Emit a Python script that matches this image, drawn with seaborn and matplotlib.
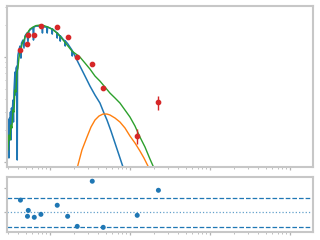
import numpy as np
import pandas as pd
import matplotlib
matplotlib.use("Agg")
import matplotlib.pyplot as plt
import seaborn as sns

# ---- data (log10 wavelength [um], log10 flux) ----
spec_logwave = [-0.525, -0.519, -0.513, -0.506, -0.500, -0.494, -0.488, -0.481, -0.475, -0.463,
                -0.456, -0.450, -0.438, -0.431, -0.425, -0.413, -0.409, -0.405, -0.400, -0.388,
                -0.375, -0.363, -0.356, -0.338, -0.325, -0.313, -0.288, -0.275, -0.263, -0.238,
                -0.213, -0.206, -0.200, -0.175, -0.125, -0.100, -0.094, -0.088, -0.063, -0.038,
                -0.034, -0.030, 0.000, 0.025, 0.029, 0.033, 0.063, 0.088, 0.091, 0.095,
                0.125, 0.129, 0.133, 0.163, 0.188, 0.191, 0.195, 0.225, 0.250, 0.275,
                0.279, 0.283, 0.313, 0.350, 0.413, 0.463, 0.500, 0.563, 0.625, 0.675,
                0.713, 0.763, 0.813, 0.863, 0.913, 0.950]
spec_logflux = [-12.886, -12.600, -12.962, -12.581, -12.695, -12.524, -12.790, -12.486, -12.581, -12.410,
                -12.619, -12.333, -12.143, -12.362, -12.105, -12.086, -12.981, -12.048, -11.981, -11.933,
                -11.895, -12.010, -11.867, -11.838, -11.914, -11.800, -11.771, -11.857, -11.752, -11.733,
                -11.724, -11.838, -11.714, -11.705, -11.705, -11.705, -11.771, -11.705, -11.714, -11.714,
                -11.771, -11.714, -11.724, -11.733, -11.781, -11.733, -11.752, -11.771, -11.819, -11.771,
                -11.800, -11.848, -11.800, -11.829, -11.848, -11.895, -11.848, -11.876, -11.905, -11.933,
                -11.990, -11.943, -11.990, -12.048, -12.143, -12.219, -12.276, -12.362, -12.438, -12.533,
                -12.600, -12.705, -12.819, -12.933, -13.048, -13.152]

model_logwave = [-0.525, -0.513, -0.500, -0.488, -0.475, -0.463, -0.450, -0.438, -0.425, -0.413,
                 -0.400, -0.388, -0.375, -0.363, -0.350, -0.325, -0.300, -0.275, -0.250, -0.213,
                 -0.175, -0.125, -0.075, -0.025, 0.025, 0.075, 0.125, 0.175, 0.225, 0.275,
                 0.325, 0.375, 0.438, 0.500, 0.563, 0.625, 0.688, 0.750, 0.813, 0.875,
                 0.938, 1.000, 1.063, 1.125, 1.188, 1.250, 1.300, 1.338]
model_logflux = [-12.886, -12.743, -12.790, -12.648, -12.676, -12.505, -12.524, -12.314, -12.333, -12.143,
                 -12.105, -12.010, -11.952, -11.933, -11.876, -11.838, -11.790, -11.762, -11.733, -11.714,
                 -11.700, -11.695, -11.700, -11.714, -11.733, -11.762, -11.800, -11.848, -11.895, -11.943,
                 -11.971, -12.000, -12.057, -12.114, -12.181, -12.229, -12.286, -12.343, -12.390, -12.438,
                 -12.505, -12.571, -12.657, -12.762, -12.857, -12.971, -13.057, -13.152]

dust_logwave = [0.325, 0.350, 0.400, 0.463, 0.513, 0.563, 0.613, 0.663, 0.713, 0.750,
                0.813, 0.875, 0.938, 1.000, 1.063, 1.125, 1.175, 1.225, 1.263]
dust_logflux = [-13.124, -13.029, -12.886, -12.762, -12.667, -12.600, -12.562, -12.543, -12.543, -12.552,
                -12.581, -12.619, -12.676, -12.752, -12.819, -12.895, -12.962, -13.038, -13.124]

phot_logwave = [-0.369, -0.281, -0.271, -0.196, -0.113, 0.091, 0.221, 0.341, 0.529, 0.666, 1.091, 1.356]
phot_logflux = [-11.933, -11.876, -11.790, -11.793, -11.705, -11.717, -11.812, -12.003, -12.070, -12.298,
                -12.752, -12.429]
phot_relerr = [0.02, 0.02, 0.02, 0.02, 0.02, 0.02, 0.02, 0.02, 0.02, 0.02, 0.155, 0.155]

residuals = [0.50, -0.16, 0.08, -0.20, -0.08, 0.29, -0.16, -0.57, 1.27, -0.61, -0.12, 0.90]
resid_bands = [0.57, -0.61]
resid_center = 0.0

# ---- build frames ----
spec = pd.DataFrame({"wave": 10 ** np.array(spec_logwave), "flux": 10 ** np.array(spec_logflux)})
model = pd.DataFrame({"wave": 10 ** np.array(model_logwave), "flux": 10 ** np.array(model_logflux)})
dust = pd.DataFrame({"wave": 10 ** np.array(dust_logwave), "flux": 10 ** np.array(dust_logflux)})
phot_w = 10 ** np.array(phot_logwave)
phot_f = 10 ** np.array(phot_logflux)
phot_e = phot_f * np.array(phot_relerr)
res = pd.DataFrame({"wave": phot_w, "res": residuals})

sns.set_style("white")
fig = plt.figure(figsize=(3.2, 2.4), dpi=100)
ax = fig.add_axes([0.0234, 0.3054, 0.956, 0.671])
axr = fig.add_axes([0.0234, 0.0333, 0.956, 0.228])

for a in (ax, axr):
    a.set_xscale("log")
ax.set_yscale("log")

blue, orange, green, red = "#1f77b4", "#ff7f0e", "#2ca02c", "#d62728"

sns.lineplot(data=spec, x="wave", y="flux", ax=ax, sort=False, estimator=None, color=blue, lw=1.1)
sns.lineplot(data=dust, x="wave", y="flux", ax=ax, sort=False, estimator=None, color=orange, lw=1.0)
sns.lineplot(data=model, x="wave", y="flux", ax=ax, sort=False, estimator=None, color=green, lw=1.0)
ax.errorbar(phot_w, phot_f, yerr=phot_e, fmt="o", color=red, ms=3.1, lw=1.0, zorder=5)

sns.scatterplot(data=res, x="wave", y="res", ax=axr, color=blue, s=13, edgecolor="none", zorder=5)
for v in resid_bands:
    axr.axhline(v, color=blue, ls="--", lw=0.9)
axr.axhline(resid_center, color=blue, ls=":", lw=0.9, alpha=0.7)

xlim = (10 ** -0.531, 10 ** 3.294)
ax.set_xlim(*xlim)
axr.set_xlim(*xlim)
ax.set_ylim(10 ** -13.045, 10 ** -11.51)
axr.set_ylim(-0.80, 1.43)
axr.set_yticks([0, 1])

for a in (ax, axr):
    a.set_xlabel("")
    a.set_ylabel("")
    for s in a.spines.values():
        s.set_color("0.78")
        s.set_linewidth(1.5)
    a.tick_params(which="both", bottom=True, left=True, direction="out",
                  labelbottom=False, labelleft=False, color="0.7")
    a.tick_params(which="major", length=2.2, width=0.9)
    a.tick_params(which="minor", length=1.4, width=0.6)

fig.savefig("out.png", dpi=100)
